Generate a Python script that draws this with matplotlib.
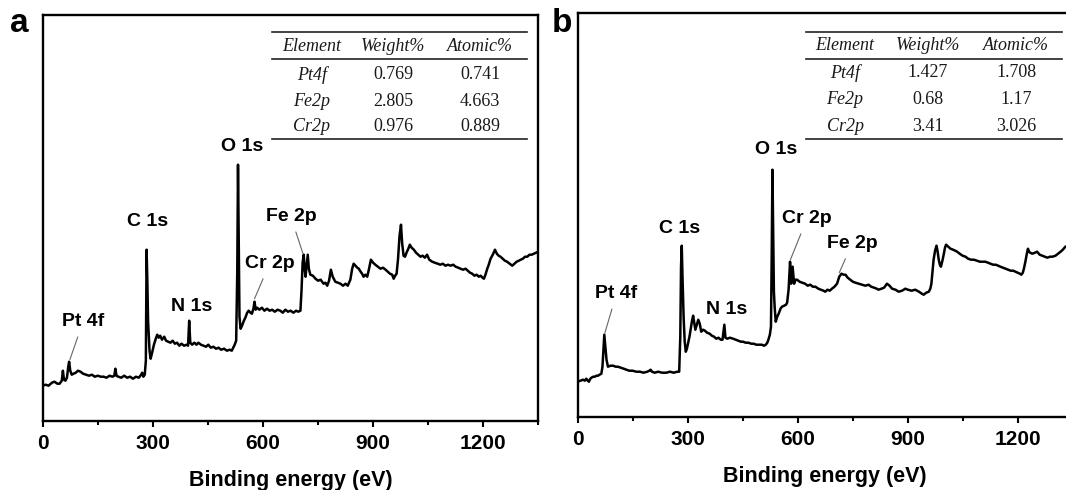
import matplotlib
matplotlib.use('Agg')
import matplotlib.pyplot as plt
from matplotlib.ticker import MultipleLocator

plt.rcParams['font.family'] = ['Liberation Sans', 'DejaVu Sans']

# survey spectrum (a), binding energy in eV and intensity in a.u.
energy_a = [0, 8, 16, 25, 32, 40, 46, 52, 55, 58, 62, 66, 70, 72, 75, 79, 84, 90, 96, 103,
            110, 118, 126, 134, 142, 150, 158, 166, 174, 182, 190, 195, 198, 201, 206, 214, 222, 230, 238, 246,
            254, 262, 268, 271, 274, 278, 281, 283, 285, 287, 291, 294, 298, 303, 308, 312, 316, 320, 325, 331,
            336, 342, 348, 354, 360, 366, 372, 378, 385, 392, 396, 399, 402, 407, 413, 419, 424, 431, 438, 445,
            451, 458, 465, 472, 479, 486, 494, 502, 509, 515, 519, 523, 527, 530, 532, 534, 536, 539, 543, 548,
            552, 557, 561, 566, 570, 574, 577, 580, 584, 590, 597, 604, 611, 618, 625, 632, 640, 647, 654, 661,
            668, 675, 683, 690, 696, 702, 705, 708, 711, 714, 716, 719, 722, 725, 729, 736, 743, 750, 757, 765,
            770, 775, 780, 785, 790, 797, 804, 811, 818, 825, 831, 838, 843, 847, 852, 857, 861, 866, 870, 874,
            879, 884, 889, 894, 900, 906, 913, 920, 927, 934, 940, 946, 952, 956, 960, 964, 968, 972, 976, 979,
            983, 987, 991, 996, 1000, 1005, 1011, 1017, 1023, 1029, 1035, 1041, 1047, 1053, 1061, 1068, 1076, 1083, 1090, 1097,
            1104, 1111, 1118, 1125, 1132, 1138, 1145, 1152, 1158, 1164, 1170, 1176, 1182, 1188, 1193, 1198, 1202, 1206, 1211, 1215,
            1220, 1226, 1232, 1237, 1242, 1247, 1253, 1259, 1265, 1272, 1279, 1285, 1291, 1297, 1302, 1308, 1314, 1320, 1326, 1332,
            1338, 1344, 1350]
counts_a = [35, 36, 35, 38, 39, 37, 37, 40, 50, 41, 40, 43, 55, 59, 50, 46, 47, 48, 50, 49,
            47, 46, 45, 46, 44, 45, 44, 44, 43, 45, 44, 45, 52, 45, 44, 43, 45, 43, 44, 42,
            44, 43, 46, 48, 44, 46, 60, 171, 140, 100, 70, 62, 68, 76, 82, 86, 83, 85, 81, 84,
            80, 79, 78, 80, 77, 78, 75, 77, 75, 76, 75, 100, 78, 76, 78, 76, 78, 76, 75, 74,
            76, 73, 74, 72, 73, 71, 72, 70, 71, 70, 73, 76, 80, 150, 256, 180, 104, 92, 95, 100,
            103, 108, 110, 108, 107, 112, 119, 111, 113, 111, 113, 110, 112, 110, 111, 109, 111, 110, 108, 111,
            109, 110, 108, 110, 109, 110, 130, 158, 166, 150, 144, 155, 166, 152, 146, 145, 142, 140, 141, 137,
            138, 135, 140, 151, 144, 139, 138, 137, 135, 137, 135, 141, 152, 157, 155, 153, 152, 149, 147, 144,
            146, 144, 152, 161, 158, 156, 154, 152, 153, 151, 149, 147, 146, 142, 145, 147, 162, 185, 196, 178,
            165, 164, 168, 172, 176, 173, 171, 168, 166, 164, 165, 163, 166, 161, 159, 158, 157, 156, 157, 155,
            156, 155, 156, 154, 153, 152, 151, 152, 150, 148, 147, 145, 146, 144, 145, 143, 142, 146, 152, 156,
            162, 166, 171, 167, 165, 164, 162, 160, 159, 157, 155, 157, 159, 160, 161, 162, 164, 164, 166, 166,
            167, 168, 169]

# survey spectrum (b)
energy_b = [0, 8, 15, 20, 24, 28, 31, 35, 38, 43, 47, 52, 56, 60, 65, 68, 70, 73, 76, 79,
            83, 90, 97, 104, 110, 118, 126, 133, 141, 150, 160, 170, 180, 190, 196, 199, 203, 210, 220, 230,
            242, 252, 262, 272, 277, 280, 282, 284, 286, 289, 292, 295, 298, 301, 305, 308, 312, 315, 318, 321,
            325, 329, 333, 337, 342, 347, 353, 360, 366, 372, 378, 384, 390, 395, 400, 403, 408, 415, 424, 431,
            438, 445, 451, 458, 466, 473, 480, 487, 494, 502, 508, 513, 517, 520, 524, 527, 529, 531, 533, 535,
            537, 540, 544, 548, 553, 557, 563, 568, 571, 575, 579, 582, 586, 590, 594, 598, 605, 612, 620, 627,
            634, 641, 648, 656, 663, 670, 675, 681, 687, 693, 700, 707, 713, 719, 725, 730, 736, 743, 750, 757,
            766, 775, 784, 793, 800, 808, 815, 820, 828, 835, 843, 850, 857, 866, 875, 884, 893, 900, 910, 920,
            930, 938, 943, 950, 957, 961, 964, 967, 970, 974, 978, 981, 984, 987, 990, 994, 998, 1001, 1004, 1010,
            1016, 1023, 1029, 1034, 1041, 1049, 1057, 1064, 1072, 1080, 1088, 1096, 1104, 1111, 1118, 1125, 1132, 1139, 1146, 1152,
            1159, 1166, 1173, 1180, 1187, 1193, 1199, 1205, 1209, 1213, 1216, 1220, 1224, 1227, 1230, 1233, 1239, 1246, 1252, 1259,
            1266, 1273, 1280, 1287, 1294, 1302, 1309, 1316, 1322, 1329, 1336, 1343, 1350]
counts_b = [35, 36, 37, 36, 38, 36, 35, 38, 39, 40, 40, 41, 41, 42, 43, 50, 63, 82, 70, 57,
            50, 51, 51, 50, 50, 49, 48, 47, 46, 46, 45, 45, 44, 45, 46, 47, 45, 44, 45, 44,
            44, 45, 44, 45, 45, 80, 150, 171, 140, 100, 75, 65, 68, 73, 80, 87, 96, 101, 94, 87,
            92, 97, 93, 85, 87, 86, 84, 83, 81, 80, 78, 79, 77, 77, 92, 79, 78, 79, 78, 77,
            76, 75, 75, 74, 74, 73, 73, 72, 72, 72, 71, 72, 74, 77, 82, 90, 160, 247, 190, 125,
            110, 95, 100, 103, 108, 110, 111, 112, 114, 127, 155, 133, 150, 133, 137, 137, 135, 134, 133, 131,
            132, 130, 130, 128, 127, 126, 125, 127, 126, 128, 130, 133, 140, 143, 142, 142, 139, 137, 135, 134,
            133, 132, 131, 132, 130, 129, 128, 127, 128, 129, 133, 131, 128, 127, 125, 126, 128, 127, 126, 127,
            125, 123, 122, 124, 125, 128, 133, 145, 157, 166, 171, 165, 157, 152, 150, 156, 163, 169, 172, 170,
            168, 167, 166, 165, 163, 161, 160, 158, 157, 157, 156, 155, 155, 155, 154, 153, 152, 152, 151, 150,
            149, 148, 147, 146, 146, 145, 144, 143, 142, 144, 148, 155, 163, 168, 165, 164, 163, 164, 165, 162,
            161, 160, 159, 160, 160, 161, 163, 165, 167, 170, 171, 173, 174]

# peak labels: (text, text x, text y, leader x, leader y or None)
peaks_a = [('Pt 4f', 110, 99, 74, 61), ('C 1s', 287, 199, None, None), ('N 1s', 405, 114, None, None),
           ('O 1s', 543, 274, None, None), ('Cr 2p', 618, 157, 577, 122), ('Fe 2p', 676, 204, 709, 167)]
peaks_b = [('Pt 4f', 106, 123, 74, 83), ('C 1s', 277, 188, None, None), ('N 1s', 406, 107, None, None),
           ('O 1s', 541, 267, None, None), ('Cr 2p', 625, 198, 580, 157), ('Fe 2p', 748, 173, 713, 144)]

table_header = ['Element', 'Weight%', 'Atomic%']
elements = ['Pt4f', 'Fe2p', 'Cr2p']
weight_a = ['0.769', '2.805', '0.976']
atomic_a = ['0.741', '4.663', '0.889']
weight_b = ['1.427', '0.68', '3.41']
atomic_b = ['1.708', '1.17', '3.026']

W, H = 1066, 490
fig = plt.figure(figsize=(W / 100, H / 100), dpi=100)
ax_a = fig.add_axes([42.7 / W, 1 - 420.7 / H, 495.6 / W, 405.7 / H])
ax_b = fig.add_axes([577.5 / W, 1 - 416.7 / H, 495.6 / W, 403.4 / H])


def draw_panel(ax, energy, counts, ytop, peaks, weight, atomic, tab):
    ax.plot(energy, counts, color='black', lw=1.8)
    ax.set_xlim(0, 1350)
    ax.set_ylim(0, ytop)
    ax.set_yticks([])
    ax.xaxis.set_major_locator(MultipleLocator(300))
    ax.xaxis.set_minor_locator(MultipleLocator(150))
    ax.tick_params(axis='x', which='major', direction='out', length=4.5, width=1.5, pad=5, labelsize=15)
    ax.tick_params(axis='x', which='minor', direction='out', length=3, width=1.5)
    for lbl in ax.get_xticklabels():
        lbl.set_fontweight('bold')
    for sp in ax.spines.values():
        sp.set_linewidth(1.7)
    ax.set_xlabel('Binding energy (eV)', fontsize=15.5, fontweight='bold', labelpad=12)

    for name, tx, ty, lx, ly in peaks:
        if lx is None:
            ax.text(tx, ty, name, ha='center', va='center', fontsize=14, fontweight='bold')
        else:
            ax.annotate(name, xy=(lx, ly), xytext=(tx, ty), ha='center', va='center',
                        fontsize=14, fontweight='bold',
                        arrowprops=dict(arrowstyle='-', color='#666666', lw=0.8, shrinkA=3, shrinkB=0))

    # table with composition
    x0, x1, cols, lines, rows = tab
    for yy in lines:
        ax.plot([x0, x1], [yy, yy], transform=ax.transAxes, color='#222222', lw=1.2, clip_on=False)
    serif = ['Liberation Serif', 'DejaVu Serif']
    for j, head in enumerate(table_header):
        ax.text(cols[j], rows[0], head, transform=ax.transAxes, ha='center', va='center',
                fontsize=13, fontstyle='italic', family=serif, color='#1a1a1a')
    for i in range(3):
        ax.text(cols[0], rows[i + 1], elements[i], transform=ax.transAxes, ha='center', va='center',
                fontsize=13, fontstyle='italic', family=serif, color='#1a1a1a')
        ax.text(cols[1], rows[i + 1], weight[i], transform=ax.transAxes, ha='center', va='center',
                fontsize=13, family=serif, color='#1a1a1a')
        ax.text(cols[2], rows[i + 1], atomic[i], transform=ax.transAxes, ha='center', va='center',
                fontsize=13, family=serif, color='#1a1a1a')


draw_panel(ax_a, energy_a, counts_a, 405.7, peaks_a, weight_a, atomic_a,
           (0.462, 0.9766, [0.5428, 0.7074, 0.8824], [0.9574, 0.8908, 0.6944],
            [0.9218, 0.8523, 0.7863, 0.7247]))
draw_panel(ax_b, energy_b, counts_b, 403.4, peaks_b, weight_b, atomic_b,
           (0.4605, 0.9786, [0.5398, 0.7072, 0.8848], [0.9546, 0.886, 0.6877],
            [0.9197, 0.8528, 0.7851, 0.7189]))

fig.text(19 / W, 1 - 23 / H, 'a', fontsize=24, fontweight='bold', ha='center', va='center')
fig.text(562 / W, 1 - 24 / H, 'b', fontsize=24, fontweight='bold', ha='center', va='center')

fig.savefig('out.png', dpi=100)
